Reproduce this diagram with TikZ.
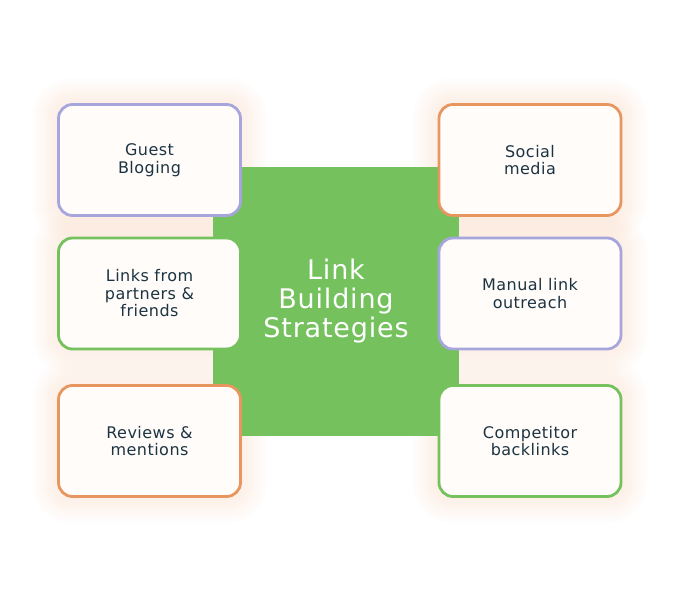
\documentclass[tikz,border=0pt]{standalone}
\usepackage{fontspec}
\setmainfont{DejaVu Sans}[LetterSpace=3]
\usepackage{xcolor}
\definecolor{primary}{HTML}{74C15D}
\definecolor{lilac}{HTML}{A6A6DC}
\definecolor{accent}{HTML}{E8965F}
\definecolor{ink}{HTML}{1C3442}
\definecolor{paper}{HTML}{FFFCFA}
\definecolor{glow}{HTML}{F6C9AA}
\usetikzlibrary{calc,backgrounds}

\begin{document}
\begin{tikzpicture}[x=1pt, y=-1pt,
    card/.style={draw=#1, line width=2.8pt, fill=paper, rounded corners=14pt,
        minimum width=182pt, minimum height=111pt, text=ink, align=center,
        font=\fontsize{16}{17.5}\selectfont},
    hub/.style={fill=primary, minimum width=246pt, minimum height=269pt,
        text=white, align=center, font=\fontsize{27}{29}\selectfont}]

    \useasboundingbox (0,0) rectangle (679,601);

    \node[hub] (core) at (336,301.5) {Link\\Building\\Strategies};

    % left column
    \node[card=lilac]   (guest)   at (149.5,160)   {Guest\\Bloging};
    \node[card=primary] (friends) at (149.5,293.5) {Links from\\partners \&\\friends};
    \node[card=accent]  (reviews) at (149.5,441)   {Reviews \&\\mentions};

    % right column
    \node[card=accent]  (social)  at (530,160)   {Social\\media};
    \node[card=lilac]   (manual)  at (530,293.5) {Manual link\\outreach};
    \node[card=primary] (rivals)  at (530,441)   {Competitor\\backlinks};

    % soft halo behind the cards
    \begin{scope}[on background layer]
        \foreach \b in {guest,friends,reviews,social,manual,rivals}
            \foreach \g in {1,...,10}
                \fill[glow, opacity=0.03, rounded corners={14pt+\g*2.5pt}]
                    ($(\b.north west)+(-\g*2.5,-\g*2.5)$) rectangle ($(\b.south east)+(\g*2.5,\g*2.5)$);
    \end{scope}
\end{tikzpicture}
\end{document}
